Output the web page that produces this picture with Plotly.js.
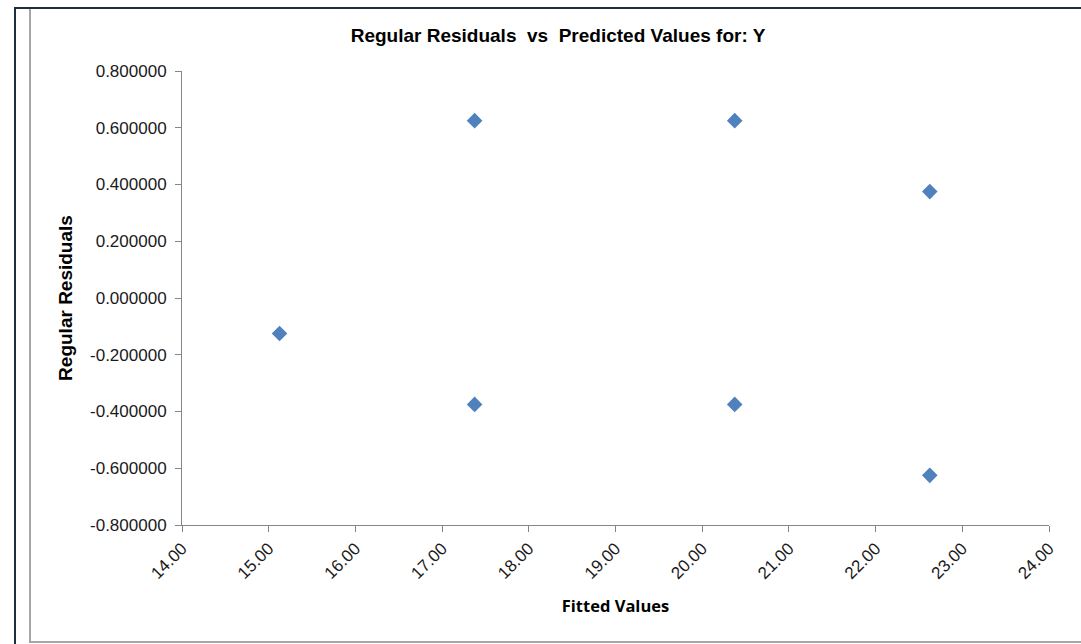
<!DOCTYPE html>
<html>
<head>
<meta charset="utf-8">
<script src="https://cdn.plot.ly/plotly-3.0.1.min.js"></script>
<style>
html,body{margin:0;padding:0;background:#fff;}
#chart{width:1081px;height:644px;}
</style>
</head>
<body>
<div id="chart"></div>
<script>
// Data
const fittedValues = [15.125, 17.375, 17.375, 20.375, 20.375, 22.625, 22.625];
const regularResiduals = [-0.125, 0.625, -0.375, 0.625, -0.375, 0.375, -0.625];
const xTickValues = [14, 15, 16, 17, 18, 19, 20, 21, 22, 23, 24];
const xTickLabels = ["14.00", "15.00", "16.00", "17.00", "18.00", "19.00", "20.00", "21.00", "22.00", "23.00", "24.00"];
const yTickValues = [-0.8, -0.6, -0.4, -0.2, 0, 0.2, 0.4, 0.6, 0.8];
const yTickLabels = ["-0.800000", "-0.600000", "-0.400000", "-0.200000", "0.000000", "0.200000", "0.400000", "0.600000", "0.800000"];
const chartTitle = "Regular Residuals  vs  Predicted Values for: Y";
const xTitle = "Fitted Values";
const yTitle = "Regular Residuals";

const W = 1081, H = 644;
const M = {l: 182, r: 32, t: 71, b: 119};
const pw = W - M.l - M.r, ph = H - M.t - M.b;
function px(x){ return (x - M.l) / pw; }
function py(y){ return (H - M.b - y) / ph; }

const dark = '#1f2e3f', grey = '#a6a6a6';
const shapes = [
  {type:'line', xref:'paper', yref:'paper', x0:px(15), x1:px(15), y0:py(7), y1:py(646), line:{color:dark, width:2}},
  {type:'line', xref:'paper', yref:'paper', x0:px(14), x1:px(1085), y0:py(8), y1:py(8), line:{color:dark, width:2}},
  {type:'line', xref:'paper', yref:'paper', x0:px(30), x1:px(30), y0:py(9), y1:py(643), line:{color:grey, width:2}},
  {type:'line', xref:'paper', yref:'paper', x0:px(29), x1:px(1085), y0:py(642), y1:py(642), line:{color:grey, width:2}}
];

const trace = {
  x: fittedValues,
  y: regularResiduals,
  type: 'scatter',
  mode: 'markers',
  marker: {symbol: 'diamond', size: 12, color: '#4f81bd'},
  hoverinfo: 'x+y'
};

const tickFont = {family: 'Liberation Sans, Arial, sans-serif', size: 17, color: '#1a1a1a'};

const layout = {
  width: W, height: H,
  margin: M,
  paper_bgcolor: '#fff', plot_bgcolor: '#fff',
  showlegend: false,
  title: {
    text: '<b>' + chartTitle + '</b>',
    font: {family: 'Liberation Sans, Arial, sans-serif', size: 19, color: '#000'},
    x: 558 / W, xref: 'container', xanchor: 'center',
    y: 1 - 35 / H, yref: 'container', yanchor: 'middle'
  },
  xaxis: {
    range: [14, 24], tickmode: 'array', tickvals: xTickValues, ticktext: xTickLabels,
    tickangle: -45,
    ticks: 'outside', ticklen: 6, tickcolor: '#868686', tickwidth: 1,
    showline: true, linecolor: '#868686', linewidth: 1,
    showgrid: false, zeroline: false,
    tickfont: tickFont,
    title: {text: '<b>' + xTitle + '</b>', font: {family: 'Open Sans, sans-serif', size: 16.5, color: '#000'}, standoff: 18}
  },
  yaxis: {
    range: [-0.8, 0.8], tickmode: 'array', tickvals: yTickValues, ticktext: yTickLabels,
    ticks: 'outside', ticklen: 6, tickcolor: '#868686', tickwidth: 1,
    showline: true, linecolor: '#868686', linewidth: 1,
    ticklabelstandoff: 5,
    showgrid: false, zeroline: false,
    tickfont: tickFont,
    title: {text: '<b>' + yTitle + '</b>', font: {family: 'Liberation Sans, Arial, sans-serif', size: 19, color: '#000'}, standoff: 12}
  },
  shapes: shapes
};

Plotly.newPlot('chart', [trace], layout, {displayModeBar: false, staticPlot: true});
</script>
</body>
</html>
